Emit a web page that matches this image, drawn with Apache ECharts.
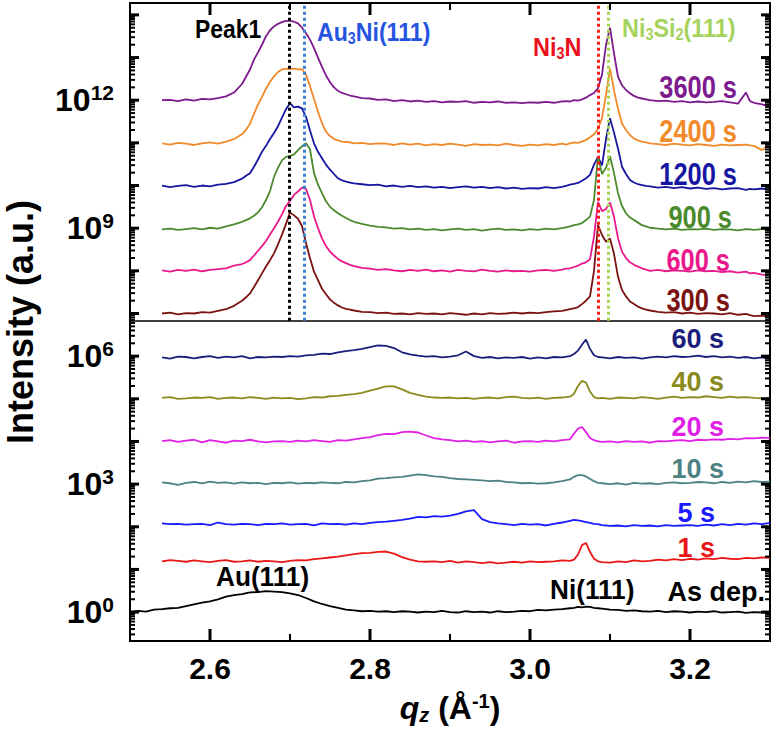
<!DOCTYPE html>
<html>
<head>
<meta charset="utf-8">
<script src="https://cdn.jsdelivr.net/npm/echarts@6/dist/echarts.min.js"></script>
<style>
  html, body { margin: 0; padding: 0; background: #fff; }
  #chart { width: 774px; height: 738px; }
</style>
</head>
<body>
<div id="chart"></div>
<script>
"use strict";

// q_z sampling (Å^-1) of the annealed scans, denser round the two peak groups
const qTop = [
  2.54, 2.55, 2.56, 2.57, 2.58, 2.59, 2.60, 2.61, 2.62, 2.63, 2.64,
  2.645, 2.65, 2.655, 2.66, 2.665, 2.67, 2.675, 2.68, 2.685, 2.69, 2.695,
  2.70, 2.705, 2.71, 2.715, 2.72, 2.725, 2.73, 2.735, 2.74, 2.745, 2.75,
  2.755, 2.76, 2.765, 2.77, 2.775, 2.78,
  2.79, 2.80, 2.81, 2.82, 2.83, 2.84, 2.85, 2.86, 2.87, 2.88,
  2.89, 2.90, 2.91, 2.92, 2.93, 2.94, 2.95, 2.96, 2.97, 2.98,
  2.99, 3.00, 3.01, 3.02, 3.03, 3.04,
  3.045, 3.05, 3.055, 3.06, 3.065, 3.07, 3.075, 3.08, 3.085, 3.09, 3.095,
  3.10, 3.105, 3.11, 3.115, 3.12, 3.125, 3.13, 3.135, 3.14, 3.145, 3.15,
  3.16, 3.17, 3.18, 3.19, 3.20, 3.21, 3.22, 3.23, 3.24, 3.25, 3.26, 3.27,
  3.275, 3.28, 3.29, 3.30,
];

// q_z sampling of the early scans and the as-deposited film
const qLow = [
  2.50, 2.51, 2.52, 2.53,
  2.54, 2.55, 2.56, 2.57, 2.58, 2.59, 2.60, 2.61, 2.62, 2.63,
  2.64, 2.65, 2.66, 2.67, 2.68, 2.69, 2.70, 2.71, 2.72, 2.73,
  2.74, 2.75, 2.76, 2.77, 2.78, 2.79, 2.80, 2.81, 2.82, 2.83,
  2.84, 2.85, 2.86, 2.87, 2.88, 2.89, 2.90, 2.91, 2.92, 2.93,
  2.94, 2.95, 2.96, 2.97, 2.98, 2.99, 3.00, 3.01, 3.02, 3.03, 3.04, 3.05,
  3.055, 3.06, 3.065, 3.07, 3.075, 3.08, 3.085, 3.09,
  3.10, 3.11, 3.12, 3.13, 3.14, 3.15, 3.16, 3.17, 3.18, 3.19, 3.20,
  3.21, 3.22, 3.23, 3.24, 3.25, 3.26, 3.27, 3.28, 3.29, 3.30,
];

// Each profile is log10(intensity) relative to its own waterfall offset.
const p3600 = [
  0.00, 0.01, -0.02, 0.02, -0.01, 0.03, 0.02, 0.05, 0.09, 0.18, 0.38,
  0.55, 0.72, 0.95, 1.12, 1.30, 1.50, 1.64, 1.73, 1.79, 1.83, 1.86,
  1.86, 1.84, 1.80, 1.70, 1.57, 1.42, 1.22, 1.00, 0.78, 0.58, 0.42,
  0.30, 0.22, 0.17, 0.14, 0.11, 0.09,
  0.05, 0.04, 0.01, 0.02, -0.02, 0.00, -0.03, -0.01, -0.04, -0.02,
  -0.05, -0.03, -0.04, -0.02, -0.06, -0.04, -0.05, -0.03, -0.06, -0.05,
  -0.07, -0.05, -0.06, -0.04, -0.06, -0.03,
  -0.02, -0.03, 0.00, -0.01, 0.02, 0.06, 0.12, 0.17, 0.28, 0.60, 1.30,
  1.70, 1.10, 0.55, 0.35, 0.24, 0.16, 0.10, 0.06, 0.04, 0.02, 0.00,
  -0.02, -0.01, -0.04, -0.02, -0.05, -0.03, -0.05, -0.04, -0.02, -0.05, -0.08, 0.18,
  -0.02, -0.06, -0.10, -0.14,
];
const p2400 = [
  0.01, -0.02, 0.02, 0.00, -0.03, 0.01, 0.03, 0.00, 0.05, 0.11, 0.22,
  0.33, 0.47, 0.70, 0.92, 1.10, 1.29, 1.45, 1.58, 1.68, 1.74, 1.76,
  1.75, 1.76, 1.74, 1.75, 1.62, 1.35, 1.05, 0.75, 0.48, 0.28, 0.18,
  0.11, 0.08, 0.05, 0.04, 0.03, 0.01,
  0.02, -0.01, 0.01, 0.00, -0.03, 0.01, -0.02, 0.00, -0.04, -0.01,
  -0.03, 0.00, -0.02, -0.05, -0.01, -0.03, -0.02, -0.04, 0.00, -0.03,
  -0.05, -0.02, -0.04, -0.01, -0.03, 0.00,
  -0.02, 0.01, 0.03, 0.02, 0.05, 0.09, 0.15, 0.22, 0.35, 0.60, 1.15,
  1.76, 1.25, 0.82, 0.47, 0.32, 0.20, 0.12, 0.08, 0.05, 0.03, 0.01,
  -0.01, -0.03, 0.00, -0.02, -0.04, -0.01, -0.03, -0.05, -0.02, -0.04, -0.03, -0.02,
  -0.04, -0.05, -0.15, -0.03,
];
const p1200 = [
  0.01, -0.03, 0.00, 0.02, -0.02, 0.01, -0.01, 0.03, 0.05, 0.09, 0.17,
  0.24, 0.30, 0.45, 0.62, 0.80, 0.94, 1.10, 1.24, 1.40, 1.60, 1.80,
  1.94, 1.84, 1.86, 1.82, 1.62, 1.30, 1.00, 0.80, 0.65, 0.50, 0.38,
  0.28, 0.18, 0.13, 0.10, 0.08, 0.06,
  0.04, 0.02, 0.03, -0.01, 0.01, -0.02, 0.00, -0.03, -0.01, -0.04,
  -0.02, -0.05, -0.03, -0.01, -0.04, -0.02, -0.05, -0.03, -0.06, -0.04,
  -0.07, -0.05, -0.06, -0.03, -0.05, -0.02,
  0.00, 0.03, 0.05, 0.07, 0.12, 0.18, 0.26, 0.50, 0.68, 0.48, 1.10,
  1.59, 1.25, 0.88, 0.45, 0.28, 0.14, 0.08, 0.04, 0.02, 0.00, -0.01,
  -0.04, -0.02, -0.05, -0.03, -0.06, -0.04, -0.07, -0.05, -0.08, -0.06, -0.05, -0.09,
  -0.07, -0.08, -0.06, -0.09,
];
const p900 = [
  0.00, 0.02, -0.01, 0.01, 0.03, 0.00, 0.04, 0.02, 0.07, 0.12, 0.18,
  0.22, 0.26, 0.32, 0.40, 0.52, 0.69, 0.90, 1.23, 1.45, 1.62, 1.70,
  1.72, 1.76, 1.86, 1.95, 2.02, 1.88, 1.32, 1.05, 0.85, 0.66, 0.53,
  0.45, 0.38, 0.32, 0.27, 0.22, 0.18,
  0.13, 0.09, 0.06, 0.05, 0.02, 0.03, 0.00, 0.02, -0.01, 0.01,
  -0.02, 0.00, 0.02, -0.01, 0.01, -0.03, 0.00, 0.02, -0.01, 0.00,
  -0.02, 0.01, -0.01, 0.02, 0.00, 0.03,
  0.05, 0.07, 0.10, 0.12, 0.15, 0.22, 0.30, 0.69, 1.72, 1.30, 1.45,
  1.72, 1.32, 0.85, 0.55, 0.38, 0.28, 0.22, 0.16, 0.10, 0.07, 0.04,
  0.02, 0.00, 0.02, -0.01, 0.01, 0.00, 0.02, -0.01, 0.01, 0.00, -0.02, 0.01,
  0.00, -0.01, 0.01, 0.00,
];
const p600 = [
  0.01, -0.02, 0.02, 0.00, 0.03, -0.01, 0.02, 0.04, 0.06, 0.12, 0.16,
  0.20, 0.25, 0.36, 0.47, 0.58, 0.70, 0.85, 1.00, 1.15, 1.33, 1.52,
  1.64, 1.78, 1.86, 1.95, 1.92, 1.66, 1.28, 1.00, 0.76, 0.58, 0.45,
  0.36, 0.28, 0.22, 0.18, 0.14, 0.11,
  0.07, 0.05, 0.02, 0.04, 0.01, -0.01, 0.02, 0.00, 0.03, -0.01,
  0.01, -0.02, 0.02, 0.00, -0.01, 0.03, 0.00, -0.02, 0.01, -0.01,
  0.00, -0.02, 0.01, 0.02, 0.00, 0.03,
  0.05, 0.06, 0.09, 0.12, 0.17, 0.20, 0.27, 0.80, 1.62, 1.40, 1.45,
  1.60, 1.27, 0.76, 0.45, 0.30, 0.20, 0.14, 0.10, 0.06, 0.03, 0.00,
  0.02, -0.01, 0.01, 0.00, -0.02, 0.01, -0.01, 0.00, -0.03, -0.01, -0.04, -0.02,
  -0.06, -0.05, -0.09, -0.10,
];
const p300 = [
  0.00, 0.02, -0.02, 0.01, 0.00, 0.03, 0.02, 0.06, 0.10, 0.18, 0.30,
  0.38, 0.47, 0.62, 0.78, 0.94, 1.10, 1.25, 1.41, 1.62, 1.85, 2.10,
  2.37, 2.30, 2.22, 2.05, 1.65, 1.30, 0.98, 0.78, 0.58, 0.45, 0.33,
  0.25, 0.19, 0.14, 0.11, 0.09, 0.07,
  0.04, 0.03, 0.01, 0.02, -0.01, 0.00, -0.02, 0.01, -0.01, 0.00,
  -0.02, 0.01, -0.01, -0.03, 0.00, -0.02, 0.01, -0.01, 0.00, 0.02,
  0.00, 0.02, 0.01, 0.03, 0.05, 0.06,
  0.08, 0.10, 0.12, 0.15, 0.22, 0.30, 0.40, 1.00, 2.07, 1.84, 1.68,
  1.76, 1.40, 0.86, 0.55, 0.40, 0.28, 0.22, 0.16, 0.12, 0.09, 0.07,
  0.04, 0.02, 0.03, 0.00, 0.02, -0.01, 0.01, 0.00, -0.02, 0.01, -0.03, -0.01,
  -0.04, -0.06, -0.05, -0.08,
];

// early scans start at 2.54; '-' marks the unmeasured head of the grid
const p60 = [
  '-', '-', '-', '-',
  0.00, -0.03, 0.02, 0.01, -0.02, 0.01, 0.03, -0.01, 0.02, 0.00,
  0.03, -0.02, 0.01, 0.00, 0.02, 0.01, 0.03, 0.02, 0.05, 0.06,
  0.09, 0.08, 0.12, 0.15, 0.17, 0.20, 0.24, 0.28, 0.27, 0.22,
  0.12, 0.07, 0.04, 0.02, 0.03, 0.00, 0.02, 0.05, 0.14, 0.03,
  -0.01, 0.01, -0.02, 0.00, -0.01, 0.01, -0.03, 0.00, -0.02, 0.01, 0.00, 0.03,
  0.08, 0.16, 0.30, 0.42, 0.20, 0.05, 0.01, 0.00,
  -0.02, 0.01, -0.01, 0.00, -0.03, 0.00, 0.02, 0.00, 0.03, 0.01, 0.02,
  0.04, 0.01, 0.03, 0.00, 0.02, -0.01, 0.01, -0.02, 0.00, -0.04,
];
const p40 = [
  '-', '-', '-', '-',
  0.00, 0.02, -0.02, -0.01, 0.01, 0.00, 0.02, -0.02, 0.00, 0.01,
  -0.01, 0.02, 0.00, -0.02, 0.01, -0.01, 0.00, -0.03, -0.01, 0.02,
  0.01, 0.04, 0.05, 0.07, 0.09, 0.12, 0.17, 0.22, 0.27, 0.27,
  0.20, 0.12, 0.07, 0.03, 0.01, 0.00, 0.01, -0.01, 0.00, -0.02,
  0.00, 0.01, -0.01, 0.02, 0.03, 0.00, -0.01, 0.01, -0.02, 0.00, 0.01, 0.03,
  0.10, 0.28, 0.40, 0.36, 0.15, 0.02, -0.01, 0.00,
  -0.02, 0.01, 0.00, -0.01, 0.02, 0.00, -0.02, 0.01, 0.03, 0.00, 0.02,
  0.01, 0.04, 0.02, 0.00, 0.03, 0.01, 0.02, 0.00, -0.01, 0.01,
];
const p20 = [
  '-', '-', '-', '-',
  0.01, 0.03, -0.01, 0.02, 0.04, -0.02, 0.03, 0.00, -0.03, 0.02,
  0.01, 0.04, 0.00, -0.02, 0.00, 0.01, -0.01, 0.02, 0.00, 0.03,
  0.01, -0.01, 0.03, 0.02, 0.05, 0.08, 0.10, 0.15, 0.18, 0.17,
  0.22, 0.23, 0.21, 0.14, 0.08, 0.05, 0.03, 0.00, 0.02, -0.01,
  0.01, -0.02, 0.00, 0.02, -0.03, 0.00, 0.01, -0.01, 0.02, 0.00, 0.03, 0.05,
  0.18, 0.30, 0.34, 0.22, 0.08, 0.03, 0.00, -0.01,
  0.00, -0.02, 0.01, -0.01, 0.00, -0.03, 0.01, 0.00, 0.02, 0.03, 0.01,
  0.04, 0.03, 0.05, 0.04, 0.06, 0.05, 0.08, 0.07, 0.09, 0.08,
];
const p10 = [
  '-', '-', '-', '-',
  0.02, 0.00, -0.04, 0.01, 0.03, 0.00, 0.04, 0.01, 0.02, -0.01,
  0.02, 0.00, 0.01, -0.02, 0.01, 0.00, 0.02, -0.01, 0.01, 0.00,
  0.02, 0.01, 0.00, 0.03, 0.02, 0.05, 0.07, 0.11, 0.12, 0.14,
  0.15, 0.18, 0.21, 0.19, 0.16, 0.15, 0.12, 0.10, 0.09, 0.08,
  0.07, 0.05, 0.06, 0.03, 0.02, 0.00, 0.01, -0.01, 0.00, 0.02, 0.05, 0.09,
  0.15, 0.19, 0.19, 0.16, 0.10, 0.05, 0.01, 0.00,
  -0.02, 0.00, -0.03, 0.01, -0.01, 0.00, -0.02, 0.01, 0.02, 0.00, 0.01,
  0.03, 0.02, 0.00, 0.03, 0.01, 0.04, 0.02, 0.05, 0.03, 0.04,
];
const p5 = [
  '-', '-', '-', '-',
  0.02, 0.00, 0.01, -0.01, 0.00, 0.01, -0.02, 0.04, 0.00, -0.01,
  0.01, 0.00, -0.02, 0.01, 0.00, 0.02, -0.01, 0.00, 0.01, -0.03,
  0.02, 0.00, 0.01, -0.01, 0.02, 0.00, 0.03, 0.05, 0.06, 0.08,
  0.10, 0.13, 0.17, 0.16, 0.19, 0.18, 0.20, 0.24, 0.30, 0.33,
  0.12, 0.05, 0.02, 0.00, -0.02, 0.01, -0.01, 0.00, -0.03, 0.01, 0.04, 0.08,
  0.10, 0.09, 0.07, 0.05, 0.03, 0.01, 0.00, -0.02,
  -0.04, -0.03, -0.05, -0.02, -0.04, -0.03, -0.05, -0.02, -0.04, -0.03, -0.02,
  -0.04, -0.01, -0.03, 0.00, -0.02, 0.01, -0.01, 0.02, 0.00, 0.03,
];
const p1 = [
  '-', '-', '-', '-',
  0.00, 0.03, 0.01, -0.01, 0.02, 0.00, -0.02, 0.01, 0.03, -0.01,
  0.00, 0.02, -0.01, 0.01, 0.00, -0.02, 0.01, 0.03, 0.02, 0.05,
  0.07, 0.09, 0.11, 0.14, 0.17, 0.19, 0.20, 0.22, 0.23, 0.18,
  0.10, 0.04, 0.00, -0.01, 0.00, -0.02, 0.01, -0.03, 0.00, -0.02,
  -0.04, -0.02, -0.05, -0.03, -0.01, -0.03, 0.00, -0.02, -0.01, 0.00, 0.02, 0.01,
  0.04, 0.16, 0.38, 0.43, 0.22, 0.06, 0.00, -0.02,
  -0.03, 0.00, -0.02, 0.02, 0.00, 0.01, 0.04, 0.02, 0.05, 0.03, 0.06,
  0.04, 0.07, 0.05, 0.08, 0.06, 0.05, 0.08, 0.07, 0.09, 0.08,
];
const pAsDep = [
  0.00, 0.03, 0.01, 0.06,
  0.07, 0.09, 0.10, 0.14, 0.18, 0.22, 0.25, 0.30, 0.36, 0.40,
  0.42, 0.46, 0.47, 0.49, 0.48, 0.47, 0.44, 0.40, 0.33, 0.25,
  0.19, 0.14, 0.10, 0.06, 0.04, 0.02, 0.03, 0.01, 0.02, 0.00,
  0.02, 0.01, -0.01, 0.01, 0.00, 0.03, 0.00, -0.01, 0.02, 0.00,
  0.01, -0.01, 0.02, 0.00, 0.01, 0.03, 0.02, 0.05, 0.04, 0.06, 0.07, 0.09,
  0.10, 0.12, 0.11, 0.13, 0.12, 0.10, 0.09, 0.08,
  0.06, 0.05, 0.03, 0.04, 0.02, 0.01, 0.03, 0.00, 0.02, 0.01, -0.01,
  0.01, 0.00, 0.02, -0.01, 0.00, 0.01, -0.02, 0.00, -0.01, 0.01,
];

// waterfall offsets (decades) and trace labels, top to bottom
const traceNames = ["3600 s", "2400 s", "1200 s", "900 s", "600 s", "300 s",
  "60 s", "40 s", "20 s", "10 s", "5 s", "1 s", "As dep."];
const traceOffsets = [12, 10.98, 9.99, 8.97, 8.0, 7.0, 5.97, 5.02, 4.0, 3.02, 2.06, 1.19, 0];
const traceProfiles = [p3600, p2400, p1200, p900, p600, p300, p60, p40, p20, p10, p5, p1, pAsDep];
const traceColors = ["#7d1a8e", "#f08a2a", "#1616a0", "#4b8a2c", "#e8198c", "#7a1212",
  "#1b1f7c", "#8a8a1e", "#e020e6", "#4c8282", "#1a1aff", "#e81818", "#000000"];

// axis ranges, panel divider and the dotted reference positions
const qRange = [2.5, 3.3];
const yRange = [0.21, 1.9e14];
const panelSplit = 6.8e6;
const refLines = [
  { q: 2.699, color: "#000000" },   // Peak1
  { q: 2.718, color: "#3d7fd0" },   // Au3Ni(111)
  { q: 3.085, color: "#ff1a1a" },   // Ni3N
  { q: 3.098, color: "#a6d652" },   // Ni3Si2(111)
];

// ticks
const xMajor = [2.6, 2.8, 3.0, 3.2];
const xMinor = [2.7, 2.9, 3.1];
const yLabelled = [1, 1e3, 1e6, 1e9, 1e12];
const yMajor = [1, 1e1, 1e2, 1e3, 1e4, 1e5, 1e6, 1e7, 1e8, 1e9, 1e10, 1e11, 1e12, 1e13, 1e14];
// log minor ticks (2..9 × each decade) inside the visible range
const yMinor = [];
[0.1].concat(yMajor).forEach((d) => {
  for (let m = 2; m <= 9; m++) {
    if (d * m > yRange[0] && d * m < yRange[1]) yMinor.push(d * m);
  }
});

const FONT = "'Liberation Sans', Arial, sans-serif";

function xAxisOf(position) {
  return {
    type: "value", position, min: qRange[0], max: qRange[1],
    axisLine: { show: true, lineStyle: { color: "#000", width: 2 } },
    axisTick: { show: false },
    axisLabel: { show: false },
    splitLine: { show: false },
  };
}
function yAxisOf(position) {
  return {
    type: "log", position, min: yRange[0], max: yRange[1],
    axisLine: { show: true, lineStyle: { color: "#000", width: 2 } },
    axisTick: { show: false },
    axisLabel: { show: false },
    splitLine: { show: false },
  };
}

const xBottom = xAxisOf("bottom");
xBottom.axisLabel = {
  show: true, customValues: xMajor, margin: 12,
  color: "#000", fontFamily: FONT, fontWeight: "bold", fontSize: 30,
  formatter: (v) => v.toFixed(1),
};
xBottom.name = "{i|q}{s|z}{n| (Å}{p|-1}{n|)}";
xBottom.nameLocation = "middle";
xBottom.nameGap = 50;
xBottom.nameTextStyle = {
  rich: {
    i: { fontFamily: FONT, fontWeight: "bold", fontStyle: "italic", fontSize: 32, color: "#000", lineHeight: 34, verticalAlign: "middle" },
    n: { fontFamily: FONT, fontWeight: "bold", fontSize: 32, color: "#000", lineHeight: 34, verticalAlign: "middle" },
    s: { fontFamily: FONT, fontWeight: "bold", fontStyle: "italic", fontSize: 20, color: "#000", lineHeight: 16, verticalAlign: "bottom" },
    p: { fontFamily: FONT, fontWeight: "bold", fontSize: 20, color: "#000", lineHeight: 20, verticalAlign: "top" },
  },
};

const yLeft = yAxisOf("left");
yLeft.axisLabel = {
  show: true, customValues: yLabelled, margin: 16,
  formatter: (v) => `{b|10}{s|${Math.round(Math.log10(v))}}`,
  rich: {
    b: { fontFamily: FONT, fontWeight: "bold", fontSize: 32, color: "#000", lineHeight: 36, verticalAlign: "middle" },
    s: { fontFamily: FONT, fontWeight: "bold", fontSize: 21, color: "#000", lineHeight: 22, verticalAlign: "top" },
  },
};
yLeft.name = "Intensity (a.u.)";
yLeft.nameLocation = "middle";
yLeft.nameGap = 92;
yLeft.nameRotate = 90;
yLeft.nameTextStyle = { fontFamily: FONT, fontWeight: "bold", fontSize: 36, color: "#000" };

const series = traceNames.map((name, k) => {
  const q = k < 6 ? qTop : qLow;
  const prof = traceProfiles[k];
  return {
    name, type: "line", xAxisIndex: 0, yAxisIndex: 0,
    symbol: "none", connectNulls: false, animation: false,
    lineStyle: { color: traceColors[k], width: 1.8 },
    data: q.map((x, i) => [x, prof[i] === "-" ? "-" : Math.pow(10, traceOffsets[k] + prof[i])]),
  };
});

// panel divider + dotted peak markers on the top panel
series[0].markLine = {
  silent: true, symbol: "none", animation: false,
  label: { show: false },
  data: [
    { yAxis: panelSplit, lineStyle: { color: "#000", type: "solid", width: 1.5 } },
    ...refLines.map((r) => [
      { coord: [r.q, panelSplit], lineStyle: { color: r.color, type: [3, 3], width: 3 } },
      { coord: [r.q, yRange[1]] },
    ]),
  ],
};

// Inward ticks on all four sides of the frame, placed through the axes' own
// scales: [q, intensity, side (0 bottom, 1 top, 2 left, 3 right), length px].
const tickRows = [];
xMajor.forEach((q) => { tickRows.push([q, yRange[0], 0, 12], [q, yRange[1], 1, 12]); });
xMinor.forEach((q) => { tickRows.push([q, yRange[0], 0, 7], [q, yRange[1], 1, 7]); });
yMajor.forEach((v) => { tickRows.push([qRange[0], v, 2, 9], [qRange[1], v, 3, 9]); });
yMinor.forEach((v) => { tickRows.push([qRange[0], v, 2, 5], [qRange[1], v, 3, 5]); });
const tickDir = [[0, -1], [0, 1], [1, 0], [-1, 0]];

series.push({
  name: "ticks", type: "custom", xAxisIndex: 0, yAxisIndex: 0,
  silent: true, animation: false, clip: false, z: 5,
  encode: { x: 0, y: 1 },
  data: tickRows,
  renderItem(params, api) {
    const p = api.coord([api.value(0), api.value(1)]);
    const dir = tickDir[api.value(2)];
    const len = api.value(3);
    return {
      type: "line",
      shape: { x1: p[0], y1: p[1], x2: p[0] + dir[0] * len, y2: p[1] + dir[1] * len },
      style: { stroke: "#000", lineWidth: len > 8 ? 3 : 2 },
    };
  },
});

// text annotations (scaleX gives the condensed look of the original lettering)
function label(text, x, y, color, size, align, squeeze, rich) {
  return {
    type: "text", x, y, scaleX: squeeze || 1, silent: true, z: 100,
    style: {
      text, fill: color, fontFamily: FONT, fontWeight: "bold", fontSize: size,
      align: align || "left", verticalAlign: "middle", rich: rich || undefined,
    },
  };
}
function subRich(color, size) {
  return {
    n: { fontFamily: FONT, fontWeight: "bold", fontSize: size, fill: color, lineHeight: 28, verticalAlign: "middle" },
    d: { fontFamily: FONT, fontWeight: "bold", fontSize: Math.round(size * 0.62), fill: color, lineHeight: 14, verticalAlign: "bottom" },
  };
}

// time labels, right-aligned just above each trace
const timeLabelPos = [
  [737, 87], [737, 131], [737, 174], [732, 217], [730, 260], [730, 300],
  [724, 339], [724, 382], [724, 427], [724, 469], [715, 513], [715, 548], [765, 592],
];

const graphics = traceNames.map((t, k) => k < 6
  ? label(t, timeLabelPos[k][0], timeLabelPos[k][1], traceColors[k], 31, "right", 0.82)
  : label(t, timeLabelPos[k][0], timeLabelPos[k][1], traceColors[k], 27, "right", 1));
graphics.push(
  label("Ni(111)", 550, 590, "#000", 27, "left", 0.97),
  label("Au(111)", 216, 577, "#000", 27, "left", 0.97),
  label("Peak1", 195, 29, "#000", 26, "left", 0.88),
  label("{n|Au}{d|3}{n|Ni(111)}", 317, 32, "#2454e0", 26, "left", 0.89, subRich("#2454e0", 26)),
  label("{n|Ni}{d|3}{n|N}", 533, 47, "#e8101a", 26, "left", 0.9, subRich("#e8101a", 26)),
  label("{n|Ni}{d|3}{n|Si}{d|2}{n|(111)}", 622, 28, "#a6d25e", 26, "left", 0.9, subRich("#a6d25e", 26)),
);

const chart = echarts.init(document.getElementById("chart"), null, { renderer: "svg" });
chart.setOption({
  animation: false,
  grid: { left: 130, right: 4, top: 3, bottom: 97, outerBoundsMode: "none" },
  xAxis: [xBottom, xAxisOf("top")],
  yAxis: [yLeft, yAxisOf("right")],
  series,
  graphic: graphics,
});
</script>
</body>
</html>
